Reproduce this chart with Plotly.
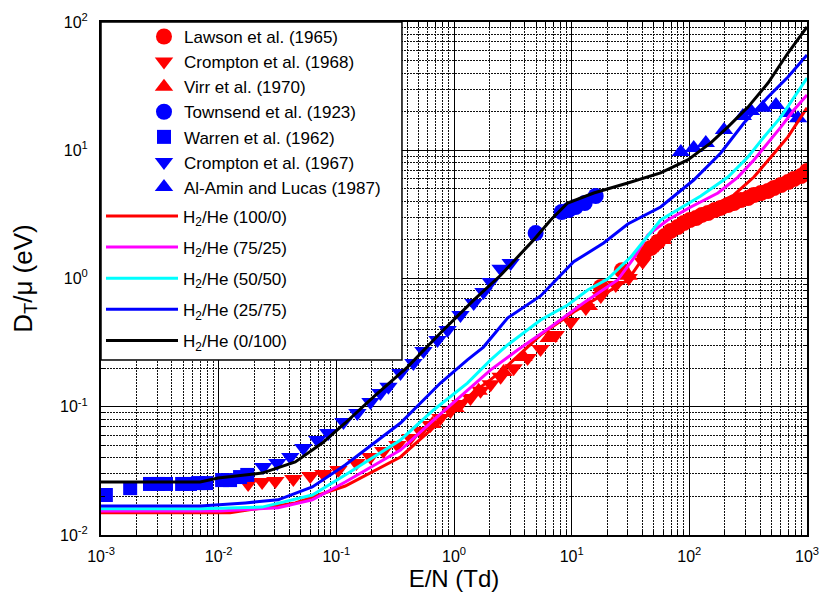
import plotly.graph_objects as go

# ---- Experimental data: E/N (Td) and D_T/mu (eV) ----
lawson_en = [17.7, 26.7, 41.0, 47.0, 54.0, 61.8, 69.6, 79.8, 89.8, 101, 114, 128, 144, 165, 185,
             213, 239, 274, 315, 354, 406, 466, 524, 601, 689, 774, 889, 1000]
lawson_dt = [0.859, 1.16, 1.55, 1.73, 1.93, 2.14, 2.35, 2.52, 2.71, 2.86, 2.96, 3.13, 3.24, 3.42, 3.55,
             3.74, 3.88, 4.09, 4.24, 4.48, 4.64, 4.81, 5.08, 5.36, 5.65, 5.97, 6.29, 6.89]

crompton68_en = [0.0178, 0.0234, 0.0303, 0.0431, 0.0601, 0.0775, 0.104, 0.148, 0.195, 0.251, 0.330,
                 0.426, 0.519, 0.631, 0.767, 0.933, 1.135, 1.38, 1.68, 2.05, 2.49, 3.21, 4.22, 5.44,
                 7.31, 9.80, 13.2, 17.7, 23.7, 30.5, 40.2, 54.0]
crompton68_dt = [0.0250, 0.0259, 0.0264, 0.0273, 0.0288, 0.0299, 0.0321, 0.0364, 0.0406, 0.0452, 0.0503,
                 0.0571, 0.0647, 0.0721, 0.0817, 0.0927, 0.105, 0.117, 0.133, 0.150, 0.171, 0.200, 0.240,
                 0.282, 0.362, 0.458, 0.589, 0.731, 0.889, 1.01, 1.35, 1.83]

virr_en = [0.656, 1.03, 1.62, 2.64, 3.90, 6.37, 14.0, 30.5, 59.4]
virr_dt = [0.0733, 0.0977, 0.133, 0.187, 0.244, 0.343, 0.611, 1.05, 2.00]

townsend_en = [4.94, 8.22, 9.42, 10.8, 12.9, 16.0]
townsend_dt = [2.26, 3.30, 3.42, 3.61, 3.88, 4.40]

warren_en = [0.00110, 0.00177, 0.00261, 0.00305, 0.00357, 0.00489, 0.00571, 0.00669, 0.00783,
             0.0107, 0.0125, 0.0152, 0.0175]
warren_dt = [0.0205, 0.0232, 0.0250, 0.0250, 0.0250, 0.0250, 0.0250, 0.0254, 0.0254,
             0.0268, 0.0268, 0.0283, 0.0294]

crompton67_en = [0.0239, 0.0315, 0.0406, 0.0524, 0.0689, 0.0855, 0.115, 0.151, 0.195, 0.237, 0.277,
                 0.351, 0.452, 0.550, 0.724, 0.881, 1.135, 1.47, 1.78, 2.05, 2.49, 3.03]
crompton67_dt = [0.0339, 0.0364, 0.0406, 0.0477, 0.0551, 0.0624, 0.0760, 0.0894, 0.109, 0.128, 0.143,
                 0.183, 0.219, 0.272, 0.331, 0.396, 0.519, 0.644, 0.785, 0.940, 1.19, 1.32]

alamin_en = [84.7, 109, 138, 197, 285, 334, 422, 545, 689, 838]
alamin_dt = [9.68, 10.4, 11.4, 14.4, 18.5, 20.2, 21.4, 22.5, 19.5, 17.8]

# ---- Calculated curves for H2/He mixtures ----
h2he_100_en = [0.001, 0.0125, 0.0448, 0.119, 0.351, 0.670, 1.30, 2.49, 5.44, 10.4, 17.7, 30.0, 41.0,
               57.0, 89.8, 144, 239, 354, 494, 689, 1000]
h2he_100_dt = [0.0149, 0.0149, 0.0178, 0.0241, 0.0406, 0.0695, 0.119, 0.187, 0.362, 0.548, 0.731, 0.973,
               1.47, 2.07, 2.71, 3.55, 4.48, 6.18, 8.86, 12.7, 21.4]

h2he_75_en = [0.001, 0.0103, 0.032, 0.0625, 0.119, 0.351, 0.670, 1.30, 2.05, 3.47, 6.63, 12.6, 24.6,
              33.7, 44.4, 65.6, 103, 175, 259, 354, 466, 601, 774, 1000]
h2he_75_dt = [0.0154, 0.0154, 0.0163, 0.0188, 0.0259, 0.0460, 0.0788, 0.135, 0.194, 0.277, 0.419, 0.644,
              0.973, 1.44, 2.18, 2.86, 3.61, 4.64, 6.18, 8.40, 11.4, 15.2, 20.6, 27.0]

h2he_50_en = [0.001, 0.007, 0.0234, 0.0625, 0.119, 0.351, 0.670, 1.30, 2.05, 2.85, 5.44, 9.25, 13.7,
              20.2, 31.8, 57.0, 125, 213, 315, 431, 601, 774, 1000]
h2he_50_dt = [0.0160, 0.0160, 0.0165, 0.0205, 0.0294, 0.0551, 0.0944, 0.153, 0.232, 0.303, 0.475, 0.621,
              0.813, 0.99, 1.47, 2.86, 4.40, 6.18, 8.86, 12.7, 18.2, 26.0, 36.6]

h2he_25_en = [0.001, 0.007, 0.0168, 0.032, 0.0625, 0.119, 0.351, 0.767, 1.30, 1.78, 2.85, 5.44, 10.4,
              18.7, 30.0, 57.0, 109, 185, 291, 466, 689, 1000]
h2he_25_dt = [0.0168, 0.0168, 0.0178, 0.0188, 0.0237, 0.0351, 0.0747, 0.153, 0.232, 0.292, 0.492, 0.731,
              1.35, 1.89, 2.66, 3.61, 5.86, 9.52, 16.3, 26.0, 37.2, 55.3]

h2he_0_en = [0.001, 0.00696, 0.0099, 0.0234, 0.0448, 0.076, 0.119, 0.206, 0.402, 0.767, 1.47, 2.49,
             4.75, 6.63, 9.25, 15.4, 30.0, 57.0, 97.0, 152, 213, 315, 466, 689, 1000]
h2he_0_dt = [0.0259, 0.0259, 0.0278, 0.0304, 0.0371, 0.0521, 0.0747, 0.119, 0.204, 0.376, 0.679, 1.06,
             2.0, 2.86, 3.88, 4.64, 5.56, 6.66, 8.40, 11.4, 15.2, 21.7, 33.4, 57.3, 91.4]

x_tick_vals = [1e-3, 1e-2, 1e-1, 1e0, 1e1, 1e2, 1e3]
x_tick_text = ["10<sup>-3</sup>", "10<sup>-2</sup>", "10<sup>-1</sup>", "10<sup>0</sup>",
               "10<sup>1</sup>", "10<sup>2</sup>", "10<sup>3</sup>"]
y_tick_vals = [1e-2, 1e-1, 1e0, 1e1, 1e2]
y_tick_text = ["10<sup>-2</sup>", "10<sup>-1</sup>", "10<sup>0</sup>", "10<sup>1</sup>", "10<sup>2</sup>"]

RED = "#ff0000"
BLUE = "#0000ff"
FONT = "Arial, Liberation Sans, sans-serif"

fig = go.Figure()

# measured data -> first legend block
markers = [
    ("Lawson et al. (1965)", lawson_en, lawson_dt, RED, "circle", 16),
    ("Crompton et al. (1968)", crompton68_en, crompton68_dt, RED, "triangle-down", 16),
    ("Virr et al. (1970)", virr_en, virr_dt, RED, "triangle-up", 16),
    ("Townsend et al. (1923)", townsend_en, townsend_dt, BLUE, "circle", 16),
    ("Warren et al. (1962)", warren_en, warren_dt, BLUE, "square", 14),
    ("Crompton et al. (1967)", crompton67_en, crompton67_dt, BLUE, "triangle-down", 16),
    ("Al-Amin and Lucas (1987)", alamin_en, alamin_dt, BLUE, "triangle-up", 16),
]
for name, xs, ys, col, sym, size in markers:
    fig.add_trace(go.Scatter(
        x=xs, y=ys, mode="markers", name=name, legend="legend",
        marker=dict(color=col, symbol=sym, size=size, line=dict(width=0)),
    ))

# calculated curves -> second legend block, one group each for extra row spacing
curves = [
    ("H<sub>2</sub>/He (100/0)", h2he_100_en, h2he_100_dt, "#ff0000"),
    ("H<sub>2</sub>/He (75/25)", h2he_75_en, h2he_75_dt, "#ff00ff"),
    ("H<sub>2</sub>/He (50/50)", h2he_50_en, h2he_50_dt, "#00ffff"),
    ("H<sub>2</sub>/He (25/75)", h2he_25_en, h2he_25_dt, "#0000ff"),
    ("H<sub>2</sub>/He (0/100)", h2he_0_en, h2he_0_dt, "#000000"),
]
for i, (name, xs, ys, col) in enumerate(curves):
    fig.add_trace(go.Scatter(
        x=xs, y=ys, mode="lines", name=name, legend="legend2", legendgroup=f"calc{i}",
        line=dict(color=col, width=3),
    ))

def minor_vals(lo, hi):
    vals = []
    for e in range(lo, hi):
        for m in range(2, 10):
            vals.append(m * 10 ** e)
    return vals

axis_common = dict(
    type="log",
    automargin=False,
    showline=True, linecolor="black", linewidth=2, mirror="allticks",
    ticks="inside", ticklen=7, tickwidth=1, tickcolor="black",
    showgrid=True, gridcolor="black", gridwidth=1,
    tickfont=dict(family=FONT, size=16, color="black"),
    zeroline=False,
)

fig.update_xaxes(
    **axis_common,
    range=[-3, 3],
    tickmode="array", tickvals=x_tick_vals, ticktext=x_tick_text,
    minor=dict(tickmode="array", tickvals=minor_vals(-3, 3), ticks="inside", ticklen=4,
               tickcolor="black", showgrid=True, gridcolor="#111111", griddash="2px,1px", gridwidth=1),
    title=dict(text="E/N (Td)", font=dict(family=FONT, size=24, color="black"), standoff=4),
    ticklabelstandoff=6,
)
fig.update_yaxes(
    **axis_common,
    range=[-2, 2],
    tickmode="array", tickvals=y_tick_vals, ticktext=y_tick_text,
    minor=dict(tickmode="array", tickvals=minor_vals(-2, 2), ticks="inside", ticklen=4,
               tickcolor="black", showgrid=True, gridcolor="#111111", griddash="2px,1px", gridwidth=1),
    title=dict(text="D<sub>T</sub>/μ (eV)", font=dict(family=FONT, size=26, color="black"), standoff=20),
    ticklabelstandoff=8,
)

# white box with black frame behind both legend blocks
fig.add_shape(
    type="rect", xref="paper", yref="paper",
    x0=0, x1=0.4263, y0=0.3411, y1=1.0,
    fillcolor="white", line=dict(color="black", width=1.5), layer="above",
)

fig.update_layout(
    width=821, height=600,
    margin=dict(l=101, r=14, t=22, b=65),
    paper_bgcolor="white", plot_bgcolor="white",
    font=dict(family=FONT, size=17, color="black"),
    showlegend=True,
    legend=dict(
        x=0.0609, y=1.006, xanchor="left", yanchor="top",
        bgcolor="rgba(0,0,0,0)", borderwidth=0,
        font=dict(family=FONT, size=17, color="black"),
        itemwidth=30, tracegroupgap=0,
    ),
    legend2=dict(
        x=0.0, y=0.656, xanchor="left", yanchor="top",
        bgcolor="rgba(0,0,0,0)", borderwidth=0,
        font=dict(family=FONT, size=17, color="black"),
        itemwidth=72, tracegroupgap=6, traceorder="grouped",
    ),
)

fig.write_html("out.html")
